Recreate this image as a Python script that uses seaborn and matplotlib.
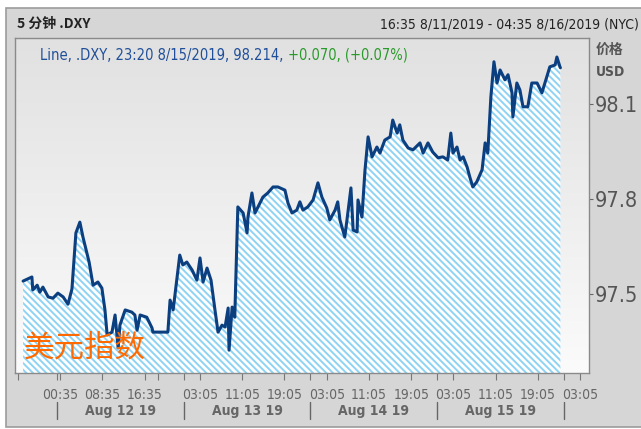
import numpy as np
import pandas as pd
import seaborn as sns
import matplotlib.pyplot as plt
from matplotlib import font_manager
from matplotlib.patches import Rectangle

# 5-minute .DXY closes (NYC time)
times = [
    '2019-08-11 17:35', '2019-08-11 19:15', '2019-08-11 19:25', '2019-08-11 20:15', '2019-08-11 20:45',
    '2019-08-11 21:20', '2019-08-11 22:20', '2019-08-11 23:15', '2019-08-12 00:10', '2019-08-12 01:10',
    '2019-08-12 02:05', '2019-08-12 02:50', '2019-08-12 03:35', '2019-08-12 04:20', '2019-08-12 04:55',
    '2019-08-12 05:40', '2019-08-12 06:05', '2019-08-12 06:50', '2019-08-12 07:45', '2019-08-12 08:30',
    '2019-08-12 09:05', '2019-08-12 09:30', '2019-08-12 10:25', '2019-08-12 11:00', '2019-08-12 11:35',
    '2019-08-12 11:55', '2019-08-12 12:55', '2019-08-12 14:10', '2019-08-12 14:45', '2019-08-12 15:10',
    '2019-08-12 15:45', '2019-08-12 17:00', '2019-08-12 18:00', '2019-08-12 18:10', '2019-08-12 21:00',
    '2019-08-12 21:25', '2019-08-12 22:00', '2019-08-12 22:45', '2019-08-12 23:15', '2019-08-12 23:50',
    '2019-08-13 00:35', '2019-08-13 01:35', '2019-08-13 02:30', '2019-08-13 03:05', '2019-08-13 03:40',
    '2019-08-13 04:25', '2019-08-13 05:10', '2019-08-13 05:55', '2019-08-13 06:30', '2019-08-13 07:15',
    '2019-08-13 07:50', '2019-08-13 08:25', '2019-08-13 08:35', '2019-08-13 09:10', '2019-08-13 09:40',
    '2019-08-13 10:15', '2019-08-13 11:15', '2019-08-13 12:00', '2019-08-13 12:10', '2019-08-13 12:55',
    '2019-08-13 13:30', '2019-08-13 14:25', '2019-08-13 15:00', '2019-08-13 15:55', '2019-08-13 16:55',
    '2019-08-13 17:50', '2019-08-13 19:10', '2019-08-13 19:45', '2019-08-13 20:30', '2019-08-13 21:25',
    '2019-08-13 22:00', '2019-08-13 22:35', '2019-08-13 23:30', '2019-08-14 00:30', '2019-08-14 01:25',
    '2019-08-14 02:10', '2019-08-14 03:05', '2019-08-14 03:40', '2019-08-14 04:40', '2019-08-14 05:10',
    '2019-08-14 05:35', '2019-08-14 06:30', '2019-08-14 06:55', '2019-08-14 07:40', '2019-08-14 08:05',
    '2019-08-14 08:50', '2019-08-14 09:00', '2019-08-14 09:45', '2019-08-14 10:20', '2019-08-14 10:55',
    '2019-08-14 11:40', '2019-08-14 12:35', '2019-08-14 13:10', '2019-08-14 14:05', '2019-08-14 15:05',
    '2019-08-14 15:35', '2019-08-14 16:25', '2019-08-14 16:55', '2019-08-14 17:30', '2019-08-14 18:30',
    '2019-08-14 19:25', '2019-08-14 20:45', '2019-08-14 21:20', '2019-08-14 22:15', '2019-08-14 23:10',
    '2019-08-15 00:10', '2019-08-15 01:05', '2019-08-15 02:00', '2019-08-15 02:35', '2019-08-15 03:00',
    '2019-08-15 03:45', '2019-08-15 04:20', '2019-08-15 04:55', '2019-08-15 05:40', '2019-08-15 06:10',
    '2019-08-15 06:45', '2019-08-15 07:30', '2019-08-15 08:30', '2019-08-15 09:05', '2019-08-15 09:35',
    '2019-08-15 10:10', '2019-08-15 10:45', '2019-08-15 11:20', '2019-08-15 11:55', '2019-08-15 12:50',
    '2019-08-15 13:25', '2019-08-15 14:10', '2019-08-15 14:20', '2019-08-15 15:05', '2019-08-15 15:40',
    '2019-08-15 16:15', '2019-08-15 17:10', '2019-08-15 17:55', '2019-08-15 18:55', '2019-08-15 19:50',
    '2019-08-15 20:45', '2019-08-15 21:20', '2019-08-15 22:20', '2019-08-15 22:40', '2019-08-15 23:15',
    '2019-08-15 23:20',
]
values = [
    97.541, 97.554, 97.513, 97.528, 97.506, 97.522, 97.491, 97.487, 97.503, 97.491,
    97.468, 97.516, 97.693, 97.727, 97.680, 97.630, 97.601, 97.528, 97.538, 97.519,
    97.450, 97.371, 97.380, 97.434, 97.330, 97.402, 97.450, 97.443, 97.434, 97.386,
    97.434, 97.427, 97.393, 97.380, 97.380, 97.481, 97.450, 97.554, 97.623, 97.592,
    97.601, 97.576, 97.544, 97.614, 97.538, 97.582, 97.544, 97.450, 97.380, 97.402,
    97.396, 97.456, 97.323, 97.459, 97.427, 97.775, 97.756, 97.693, 97.743, 97.819,
    97.756, 97.787, 97.806, 97.819, 97.838, 97.838, 97.828, 97.787, 97.756, 97.765,
    97.791, 97.765, 97.775, 97.797, 97.851, 97.806, 97.772, 97.734, 97.765, 97.791,
    97.734, 97.680, 97.734, 97.835, 97.702, 97.696, 97.797, 97.743, 97.892, 97.996,
    97.933, 97.964, 97.945, 97.986, 97.996, 98.049, 98.008, 98.034, 97.986, 97.961,
    97.955, 97.977, 97.945, 97.977, 97.948, 97.930, 97.933, 97.923, 98.008, 97.945,
    97.964, 97.923, 97.933, 97.901, 97.870, 97.838, 97.854, 97.892, 97.977, 97.945,
    98.122, 98.233, 98.166, 98.207, 98.176, 98.192, 98.135, 98.059, 98.166, 98.144,
    98.091, 98.091, 98.166, 98.166, 98.135, 98.185, 98.217, 98.223, 98.248, 98.217,
    98.214,
]

# axis ticks
tick_times = ['2019-08-12 00:35', '2019-08-12 08:35', '2019-08-12 16:35',
              '2019-08-13 03:05', '2019-08-13 11:05', '2019-08-13 19:05',
              '2019-08-14 03:05', '2019-08-14 11:05', '2019-08-14 19:05',
              '2019-08-15 03:05', '2019-08-15 11:05', '2019-08-15 19:05',
              '2019-08-16 03:05']
tick_labels = [t[-5:] for t in tick_times]
minor_times = ['2019-08-11 16:35', '2019-08-12 00:00', '2019-08-12 19:05', '2019-08-13 00:00',
               '2019-08-14 00:00', '2019-08-15 00:00', '2019-08-16 00:00']
day_edges = ['2019-08-12', '2019-08-13', '2019-08-14', '2019-08-15', '2019-08-16']
day_centers = ['2019-08-12 12:00', '2019-08-13 12:00', '2019-08-14 12:00', '2019-08-15 12:00']
day_labels = ['Aug 12 19', 'Aug 13 19', 'Aug 14 19', 'Aug 15 19']
y_ticks = [97.5, 97.8, 98.1]
y_labels = ['97.5', '97.8', '98.1']
x_range = ['2019-08-11 16:03', '2019-08-16 04:45']
y_range = [97.251, 98.308]

base = pd.Timestamp('2019-08-11')


def hours(ts):
    return (pd.to_datetime(pd.Series(ts)) - base) / pd.Timedelta(hours=1)


df = pd.DataFrame({'h': hours(times), 'price': values})

sns.set_style('white')
installed = {f.name for f in font_manager.fontManager.ttflist}
narrow = [f for f in ['Liberation Sans Narrow', 'DejaVu Sans Condensed'] if f in installed]
NARROW = narrow + ['DejaVu Sans']
CJK = ['Noto Sans CJK SC', 'DejaVu Sans']
plt.rcParams['font.family'] = NARROW
plt.rcParams['font.stretch'] = 'condensed'
plt.rcParams['hatch.color'] = '#8ed3f4'
plt.rcParams['hatch.linewidth'] = 1.4

W, H = 641, 429
fig = plt.figure(figsize=(W / 100, H / 100), dpi=100, facecolor='white')
renderer = fig.canvas.get_renderer()

# outer grey panel behind everything
fig.patches.append(Rectangle((6 / W, 2 / H), 1, 1 - 10 / H, transform=fig.transFigure,
                             facecolor='#d6d6d6', edgecolor='#9c9c9c', lw=1.2, zorder=-5))

ax = fig.add_axes([15 / W, 1 - 373 / H, 574 / W, 335 / H])

# light grey to white gradient behind the plot
grad = np.linspace(0, 1, 256).reshape(-1, 1)
ax.imshow(grad, extent=[0, 1, 0, 1], transform=ax.transAxes, aspect='auto', origin='lower',
          cmap=sns.blend_palette(['#fbfbfb', '#e1e1e1'], as_cmap=True), zorder=0)

ax.fill_between(df['h'], df['price'], y_range[0], facecolor='white',
                edgecolor='#8ed3f4', hatch='\\\\\\\\\\', lw=0, zorder=1)
sns.lineplot(data=df, x='h', y='price', ax=ax, color='#0b3f7f', lw=2.2, zorder=2)

ax.set_xlim(hours(x_range).tolist())
ax.set_ylim(y_range)
ax.set_xlabel('')
ax.set_ylabel('')
for s in ax.spines.values():
    s.set_color('#8a8a8a')
    s.set_linewidth(1)

ax.yaxis.tick_right()
ax.set_yticks(y_ticks)
ax.set_yticklabels(y_labels)
ax.tick_params(axis='y', length=3, width=0.8, color='#666666', pad=1,
               labelsize=22, labelcolor='#555555')

ax.set_xticks(hours(tick_times).tolist())
ax.set_xticklabels(tick_labels)
ax.set_xticks(hours(minor_times).tolist(), minor=True)
ax.tick_params(axis='x', which='both', length=5, width=0.8, color='#777777',
               pad=6, labelsize=10, labelcolor='#666666', bottom=True)

# shrink the big price labels until they fit inside the picture
size = 22
while size > 8:
    right = max(t.get_window_extent(renderer).x1 for t in ax.get_yticklabels())
    if right <= W - 2:
        break
    size -= 0.5
    ax.tick_params(axis='y', labelsize=size)

xt = ax.get_xaxis_transform()
for e in hours(day_edges):
    ax.plot([e, e], [-0.087, -0.137], transform=xt, color='#666666', lw=1, clip_on=False)
for c, lab in zip(hours(day_centers), day_labels):
    ax.text(c, -0.113, lab, transform=xt, ha='center', va='center',
            fontsize=10, fontweight='bold', color='#666666')

# header texts
fig.text(17 / W, 1 - 24 / H, '5 分钟 .DXY', family=CJK, fontsize=10, fontweight='bold',
         color='#222222', va='center')
hdr = fig.text(639 / W, 1 - 24 / H, '16:35 8/11/2019 - 04:35 8/16/2019 (NYC)', fontsize=10,
               color='#222222', va='center', ha='right')
fig.text(596 / W, 1 - 50 / H, '价格', family=CJK, fontsize=10, fontweight='bold',
         color='#555555', va='center')
fig.text(596 / W, 1 - 72 / H, 'USD', fontsize=10, fontweight='bold',
         color='#555555', va='center')

t1 = fig.text(40 / W, 1 - 55 / H, 'Line, .DXY, 23:20 8/15/2019, 98.214, ', fontsize=10.5,
              color='#1f4f9a', va='center')
bb = t1.get_window_extent(renderer=renderer)
fig.text(bb.x1 / W, 1 - 55 / H, '+0.070, (+0.07%)', fontsize=10.5,
         color='#2a9a2a', va='center')

fig.text(24 / W, 1 - 348 / H, '美元指数', family=CJK, fontsize=22, color='#ff6a00',
         va='center', zorder=5)

plt.savefig('out.png', dpi=100)
